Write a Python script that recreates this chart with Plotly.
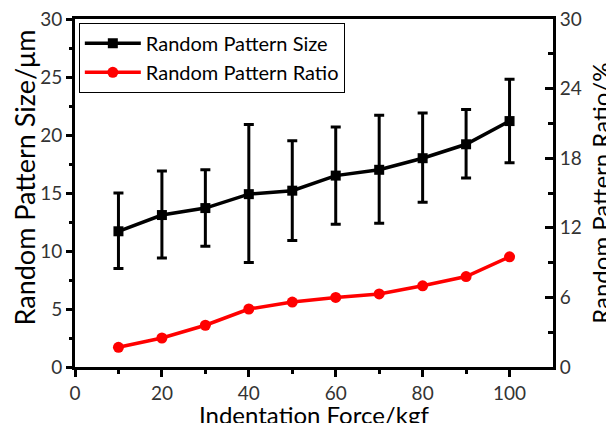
import plotly.graph_objects as go

force = [10, 20, 30, 40, 50, 60, 70, 80, 90, 100]
size_um = [11.7, 13.1, 13.7, 14.9, 15.2, 16.5, 17.0, 18.0, 19.2, 21.2]
size_err_plus = [3.3, 3.8, 3.3, 6.0, 4.3, 4.2, 4.7, 3.9, 3.0, 3.6]
size_err_minus = [3.2, 3.7, 3.3, 5.9, 4.3, 4.2, 4.6, 3.8, 2.9, 3.6]
ratio_pct = [1.7, 2.5, 3.6, 5.0, 5.6, 6.0, 6.3, 7.0, 7.8, 9.5]

x_ticks = [0, 20, 40, 60, 80, 100]
x_minor = [10, 30, 50, 70, 90]
y_ticks = [0, 5, 10, 15, 20, 25, 30]
y_minor = [2.5, 7.5, 12.5, 17.5, 22.5, 27.5]
y2_ticks = [0, 6, 12, 18, 24, 30]
y2_minor = [3, 9, 15, 21, 27]

FONT = "Lato"
TICKFONT = dict(family=FONT, size=19, color="#333333")

fig = go.Figure()
fig.add_trace(go.Scatter(
    x=force, y=size_um, name="Random Pattern Size", mode="lines+markers",
    line=dict(color="black", width=3.5),
    marker=dict(symbol="square", size=10, color="black"),
    error_y=dict(type="data", symmetric=False, array=size_err_plus,
                 arrayminus=size_err_minus, color="black", thickness=3, width=5),
))
fig.add_trace(go.Scatter(
    x=force, y=ratio_pct, name="Random Pattern Ratio", mode="lines+markers",
    line=dict(color="red", width=3.5),
    marker=dict(symbol="circle", size=11, color="red"),
    yaxis="y2",
))

fig.update_layout(
    width=614, height=423,
    margin=dict(l=67, r=69, t=11, b=64),
    paper_bgcolor="white", plot_bgcolor="white",
    showlegend=True,
    legend=dict(x=0.008, y=0.989, xanchor="left", yanchor="top",
                bordercolor="black", borderwidth=1, bgcolor="white",
                font=dict(family=FONT, size=20, color="black"),
                tracegroupgap=0, itemwidth=56),
    xaxis=dict(range=[0, 110], tickvals=x_ticks, showline=True, linewidth=3,
               linecolor="black", mirror=True, ticks="outside", ticklen=7,
               tickwidth=3, tickcolor="black", showgrid=False, zeroline=False,
               tickfont=TICKFONT, automargin=False, ticklabeloverflow="allow",
               minor=dict(ticks="outside", tickvals=x_minor, ticklen=4,
                          tickwidth=3, tickcolor="black", showgrid=False)),
    yaxis=dict(range=[0, 30], tickvals=y_ticks, showline=True, linewidth=3,
               linecolor="black", ticks="outside", ticklen=6, tickwidth=3,
               tickcolor="black", showgrid=False, zeroline=False,
               tickfont=TICKFONT, automargin=False, ticklabeloverflow="allow",
               minor=dict(ticks="outside", tickvals=y_minor, ticklen=3,
                          tickwidth=3, tickcolor="black", showgrid=False)),
    yaxis2=dict(range=[0, 30], tickvals=y2_ticks, showline=True, linewidth=3,
                linecolor="black", ticks="inside", ticklen=8, tickwidth=3,
                tickcolor="black", showgrid=False, zeroline=False,
                tickfont=TICKFONT, automargin=False, ticklabeloverflow="allow",
                overlaying="y", side="right",
                minor=dict(ticks="inside", tickvals=y2_minor, ticklen=5,
                           tickwidth=3, tickcolor="black", showgrid=False)),
    annotations=[
        dict(text="Random Pattern Size/μm", textangle=-90, xref="paper", yref="paper",
             x=-0.105, y=0.544, xanchor="center", yanchor="middle", showarrow=False,
             font=dict(family=FONT, size=27, color="black")),
        dict(text="Random Pattern Ratio/%", textangle=-90, xref="paper", yref="paper",
             x=1.098, y=0.50, xanchor="center", yanchor="middle", showarrow=False,
             font=dict(family=FONT, size=24, color="black")),
        dict(text="Indentation Force/kgf", xref="paper", yref="paper",
             x=0.5, y=-0.09, xanchor="center", yanchor="top", showarrow=False,
             font=dict(family=FONT, size=24, color="black")),
    ],
)

fig.write_html("out.html")
